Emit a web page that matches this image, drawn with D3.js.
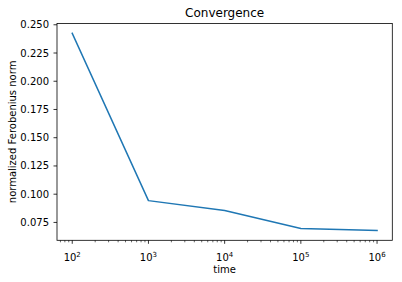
<!DOCTYPE html>
<html>
<head>
<meta charset="utf-8">
<script src="https://cdn.jsdelivr.net/npm/d3@7"></script>
<style>
  body { margin: 0; background: #fff; }
  svg { display: block; font-family: "DejaVu Sans", sans-serif; }
</style>
</head>
<body>
<svg id="chart" width="402" height="282"></svg>
<script>
// data
const times = [1e2, 1e3, 1e4, 1e5, 1e6];
const norms = [0.2424, 0.0943, 0.0856, 0.0697, 0.0679];
const yTicks = [0.075, 0.100, 0.125, 0.150, 0.175, 0.200, 0.225, 0.250];
const xTicks = [1e2, 1e3, 1e4, 1e5, 1e6];

const svg = d3.select("#chart"),
      width = +svg.attr("width"),
      height = +svg.attr("height");
const margin = {top: 23.5, right: 9.7, bottom: 41.7, left: 57};

// matplotlib style 5% margins
const lx = times.map(Math.log10);
const lxMin = d3.min(lx), lxMax = d3.max(lx), lpad = (lxMax - lxMin) * 0.05;
const yMin = d3.min(norms), yMax = d3.max(norms), ypad = (yMax - yMin) * 0.05;

const x = d3.scaleLog()
  .domain([Math.pow(10, lxMin - lpad), Math.pow(10, lxMax + lpad)])
  .range([margin.left, width - margin.right]);
const y = d3.scaleLinear()
  .domain([yMin - ypad, yMax + ypad])
  .range([height - margin.bottom, margin.top]);

const x0 = margin.left, x1 = width - margin.right;
const y0 = height - margin.bottom, y1 = margin.top;

// line
const line = d3.line().x((d, i) => x(times[i])).y(d => y(d));
svg.append("path")
  .datum(norms)
  .attr("fill", "none")
  .attr("stroke", "#1f77b4")
  .attr("stroke-width", 1.5)
  .attr("stroke-linejoin", "round")
  .attr("stroke-linecap", "square")
  .attr("d", line);

// frame
svg.append("rect")
  .attr("x", x0).attr("y", y1)
  .attr("width", x1 - x0).attr("height", y0 - y1)
  .attr("fill", "none")
  .attr("stroke", "#000")
  .attr("stroke-width", 0.8);

// minor x ticks
const [dmin, dmax] = x.domain();
const minor = [];
for (let e = Math.floor(Math.log10(dmin)); e <= Math.ceil(Math.log10(dmax)); e++) {
  for (let m = 2; m <= 9; m++) {
    const v = m * Math.pow(10, e);
    if (v >= dmin && v <= dmax) minor.push(v);
  }
}
svg.append("g").selectAll("line")
  .data(minor)
  .join("line")
  .attr("x1", d => x(d)).attr("x2", d => x(d))
  .attr("y1", y0).attr("y2", y0 + 2)
  .attr("stroke", "#000").attr("stroke-width", 0.6);

// major x ticks
const xt = svg.append("g").selectAll("g")
  .data(xTicks)
  .join("g")
  .attr("transform", d => `translate(${x(d)},${y0})`);
xt.append("line")
  .attr("y2", 3.5)
  .attr("stroke", "#000").attr("stroke-width", 0.8);
const lab = xt.append("text")
  .attr("y", 21)
  .attr("text-anchor", "middle")
  .style("font-size", "10px")
  .attr("fill", "#000");
lab.append("tspan").text("10");
lab.append("tspan")
  .attr("dy", -4.5)
  .style("font-size", "7px")
  .text(d => Math.round(Math.log10(d)));

// y ticks
const yt = svg.append("g").selectAll("g")
  .data(yTicks)
  .join("g")
  .attr("transform", d => `translate(${x0},${y(d)})`);
yt.append("line")
  .attr("x2", -3.5)
  .attr("stroke", "#000").attr("stroke-width", 0.8);
yt.append("text")
  .attr("x", -8)
  .attr("dy", "0.35em")
  .attr("text-anchor", "end")
  .style("font-size", "10px")
  .attr("fill", "#000")
  .text(d => d.toFixed(3));

// labels
svg.append("text")
  .attr("x", (x0 + x1) / 2).attr("y", 17)
  .attr("text-anchor", "middle")
  .style("font-size", "12px")
  .text("Convergence");

svg.append("text")
  .attr("x", (x0 + x1) / 2).attr("y", 273)
  .attr("text-anchor", "middle")
  .style("font-size", "10px")
  .text("time");

svg.append("text")
  .attr("transform", `translate(16,${(y0 + y1) / 2}) rotate(-90)`)
  .attr("text-anchor", "middle")
  .style("font-size", "10px")
  .text("normalized Ferobenius norm");
</script>
</body>
</html>
